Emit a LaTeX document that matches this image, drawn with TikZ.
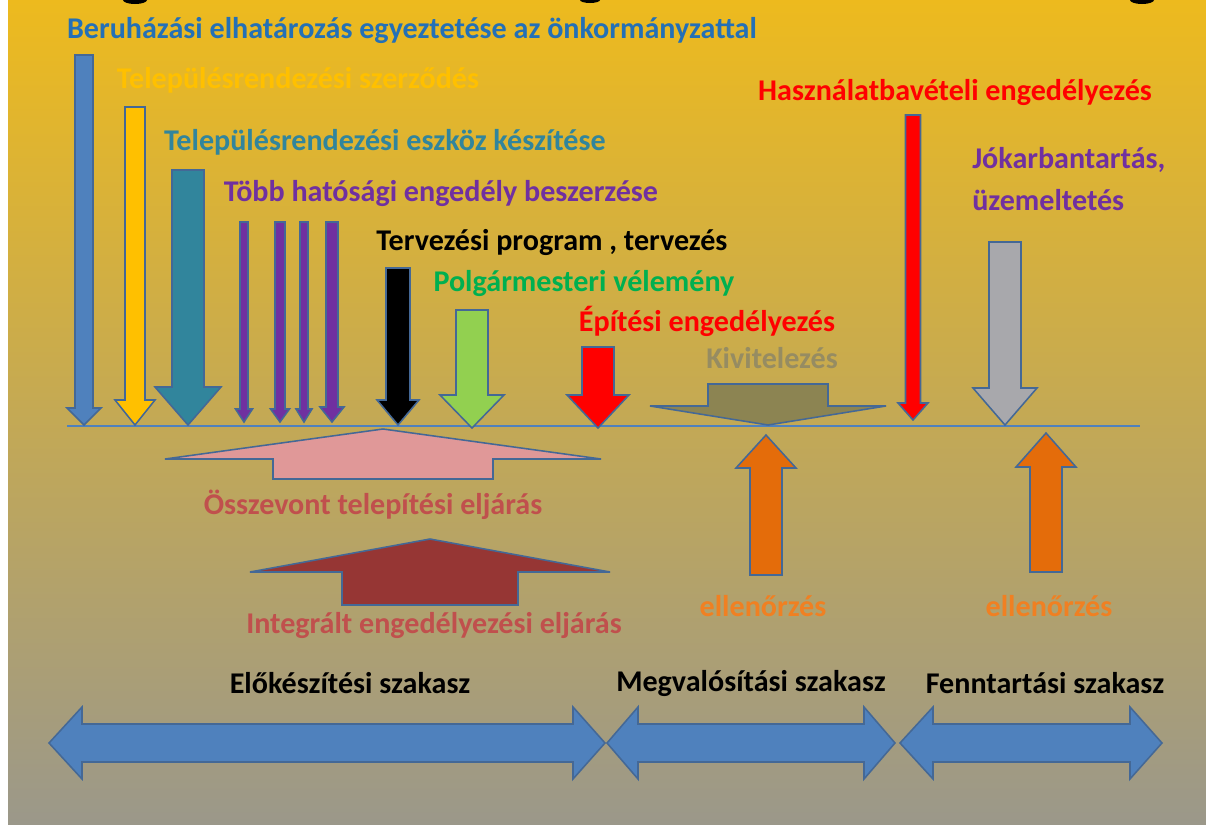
\documentclass[tikz,border=0pt]{standalone}
\usepackage{fontspec}
\setmainfont{Carlito}
\usepackage{tikz}

\definecolor{bgtop}{RGB}{237,186,30}
\definecolor{bgmid}{RGB}{207,174,72}
\definecolor{bgbot}{RGB}{155,152,138}
\definecolor{linblue}{RGB}{79,129,189}
\definecolor{arrbord}{RGB}{68,104,150}
\definecolor{cblue}{RGB}{79,129,189}
\definecolor{tblue}{RGB}{36,112,182}
\definecolor{cyellow}{RGB}{255,192,0}
\definecolor{cteal}{RGB}{49,133,156}
\definecolor{cpurple}{RGB}{112,48,160}
\definecolor{cgreen}{RGB}{146,208,80}
\definecolor{tgreen}{RGB}{0,176,80}
\definecolor{colive}{RGB}{140,132,82}
\definecolor{tolive}{RGB}{150,140,98}
\definecolor{cgray}{RGB}{168,168,172}
\definecolor{cpink}{RGB}{224,152,152}
\definecolor{cdarkred}{RGB}{150,54,52}
\definecolor{tdarkred}{RGB}{192,80,77}
\definecolor{corange}{RGB}{228,108,10}
\definecolor{torange}{RGB}{240,128,34}

% block arrow: style, x, shaft half width, shaft end, head base, head half width, tip
\newcommand{\blockarr}[7]{%
  \filldraw[#1] (#2-#3,#4) -- (#2+#3,#4) -- (#2+#3,#5) -- (#2+#6,#5) -- (#2,#7)
    -- (#2-#6,#5) -- (#2-#3,#5) -- cycle;}
% double arrow: left tip, left back, right back, right tip
\newcommand{\dblarr}[4]{%
  \filldraw[blk, fill=cblue] (#1,743) -- (#2,707) -- (#2,724) -- (#3,724) -- (#3,707)
    -- (#4,743) -- (#3,779) -- (#3,762) -- (#2,762) -- (#2,779) -- cycle;}

\begin{document}
\begin{tikzpicture}[x=0.025cm, y=-0.025cm,
  lbl/.style={font=\fontsize{21.4}{30}\selectfont\bfseries, inner sep=0pt},
  blk/.style={draw=arrbord, line width=1.1pt, line join=miter}]
  \useasboundingbox (0,0) rectangle (1206,824);
  \fill[white] (0,0) rectangle (8,824);
  \shade[top color=bgtop, middle color=bgmid, bottom color=bgbot] (8,0) rectangle (1206,824);
  \begin{scope}
    \clip (8,0) rectangle (1206,824);
    \fill[black] (135,0) ellipse [x radius=12, y radius=4];
    \fill[black] (590,0) ellipse [x radius=10, y radius=3];
    \fill[black] (1142,0) ellipse [x radius=12, y radius=4];
  \end{scope}

  % labels
  \node[lbl, text=tblue] (beru) at (412,30) {Beruházási elhatározás egyeztetése az önkormányzattal};
  \node[lbl, text=cyellow] (szerz) at (298,80) {Településrendezési szerződés};
  \node[lbl, text=cteal] (eszk) at (385,142) {Településrendezési eszköz készítése};
  \node[lbl, text=cpurple] (tobb) at (441,193) {Több  hatósági engedély beszerzése};
  \node[lbl, text=black] (terv) at (552,242) {Tervezési program , tervezés};
  \node[lbl, text=tgreen] (polg) at (584,283) {Polgármesteri vélemény};
  \node[lbl, text=red] (epit) at (707,321) {Építési engedélyezés};
  \node[lbl, text=tolive] (kivit) at (772,358) {Kivitelezés};
  \node[lbl, text=red] (hasz) at (955,92) {Használatbavételi engedélyezés};
  \node[lbl, text=cpurple, align=left, anchor=west] (jokarb) at (972,179) {Jókarbantartás,\\üzemeltetés};
  \node[lbl, text=tdarkred] (osszev) at (373,505) {Összevont telepítési eljárás};
  \node[lbl, text=tdarkred] (integr) at (434,625) {Integrált engedélyezési eljárás};
  \node[lbl, text=torange] (ell1) at (763,606) {ellenőrzés};
  \node[lbl, text=torange] (ell2) at (1049,606) {ellenőrzés};
  \node[lbl, text=black] (elok) at (350,683) {Előkészítési szakasz};
  \node[lbl, text=black] (megv) at (751,683) {Megvalósítási szakasz};
  \node[lbl, text=black] (fennt) at (1045,683) {Fenntartási szakasz};

  % time line
  \coordinate (tl) at (67,426);
  \coordinate (tr) at (1140,426);
  \draw[linblue, line width=1.3pt] (tl) -- (tr);

  % down arrows
  \blockarr{blk, fill=cblue}{84}{9}{55}{408}{17}{425}
  \blockarr{blk, fill=cyellow}{135}{10}{107}{400}{20}{425}
  \blockarr{blk, fill=cteal}{188}{16}{170}{387}{33}{425}
  \blockarr{blk, fill=cpurple}{244}{4}{222}{409}{8.5}{422}
  \blockarr{blk, fill=cpurple}{280}{5}{222}{409}{9.5}{422}
  \blockarr{blk, fill=cpurple}{304}{4}{222}{409}{8}{422}
  \blockarr{blk, fill=cpurple}{332}{6}{222}{407}{12}{422}
  \blockarr{blk, fill=black}{398}{12}{268}{400}{21}{425}
  \blockarr{blk, fill=cgreen}{472}{16}{310}{395}{32}{428}
  \blockarr{blk, fill=red}{598}{16}{347}{395}{31}{428}
  \blockarr{blk, fill=colive}{768}{60}{384}{406}{118}{425}
  \blockarr{blk, fill=red}{913}{7.5}{115}{403}{15}{420}
  \blockarr{blk, fill=cgray}{1005}{16}{242}{388}{32}{425}

  % up arrows
  \blockarr{blk, fill=cpink}{383}{110}{479}{459}{218}{429}
  \blockarr{blk, fill=cdarkred}{430}{88}{605}{572}{180}{539}
  \blockarr{blk, fill=corange}{766}{16}{575}{468}{30}{435}
  \blockarr{blk, fill=corange}{1046}{16}{572}{467}{30}{433}

  % phases
  \dblarr{49}{82}{573}{605}
  \dblarr{607}{638}{864}{895}
  \dblarr{900}{933}{1130}{1162}
\end{tikzpicture}
\end{document}
